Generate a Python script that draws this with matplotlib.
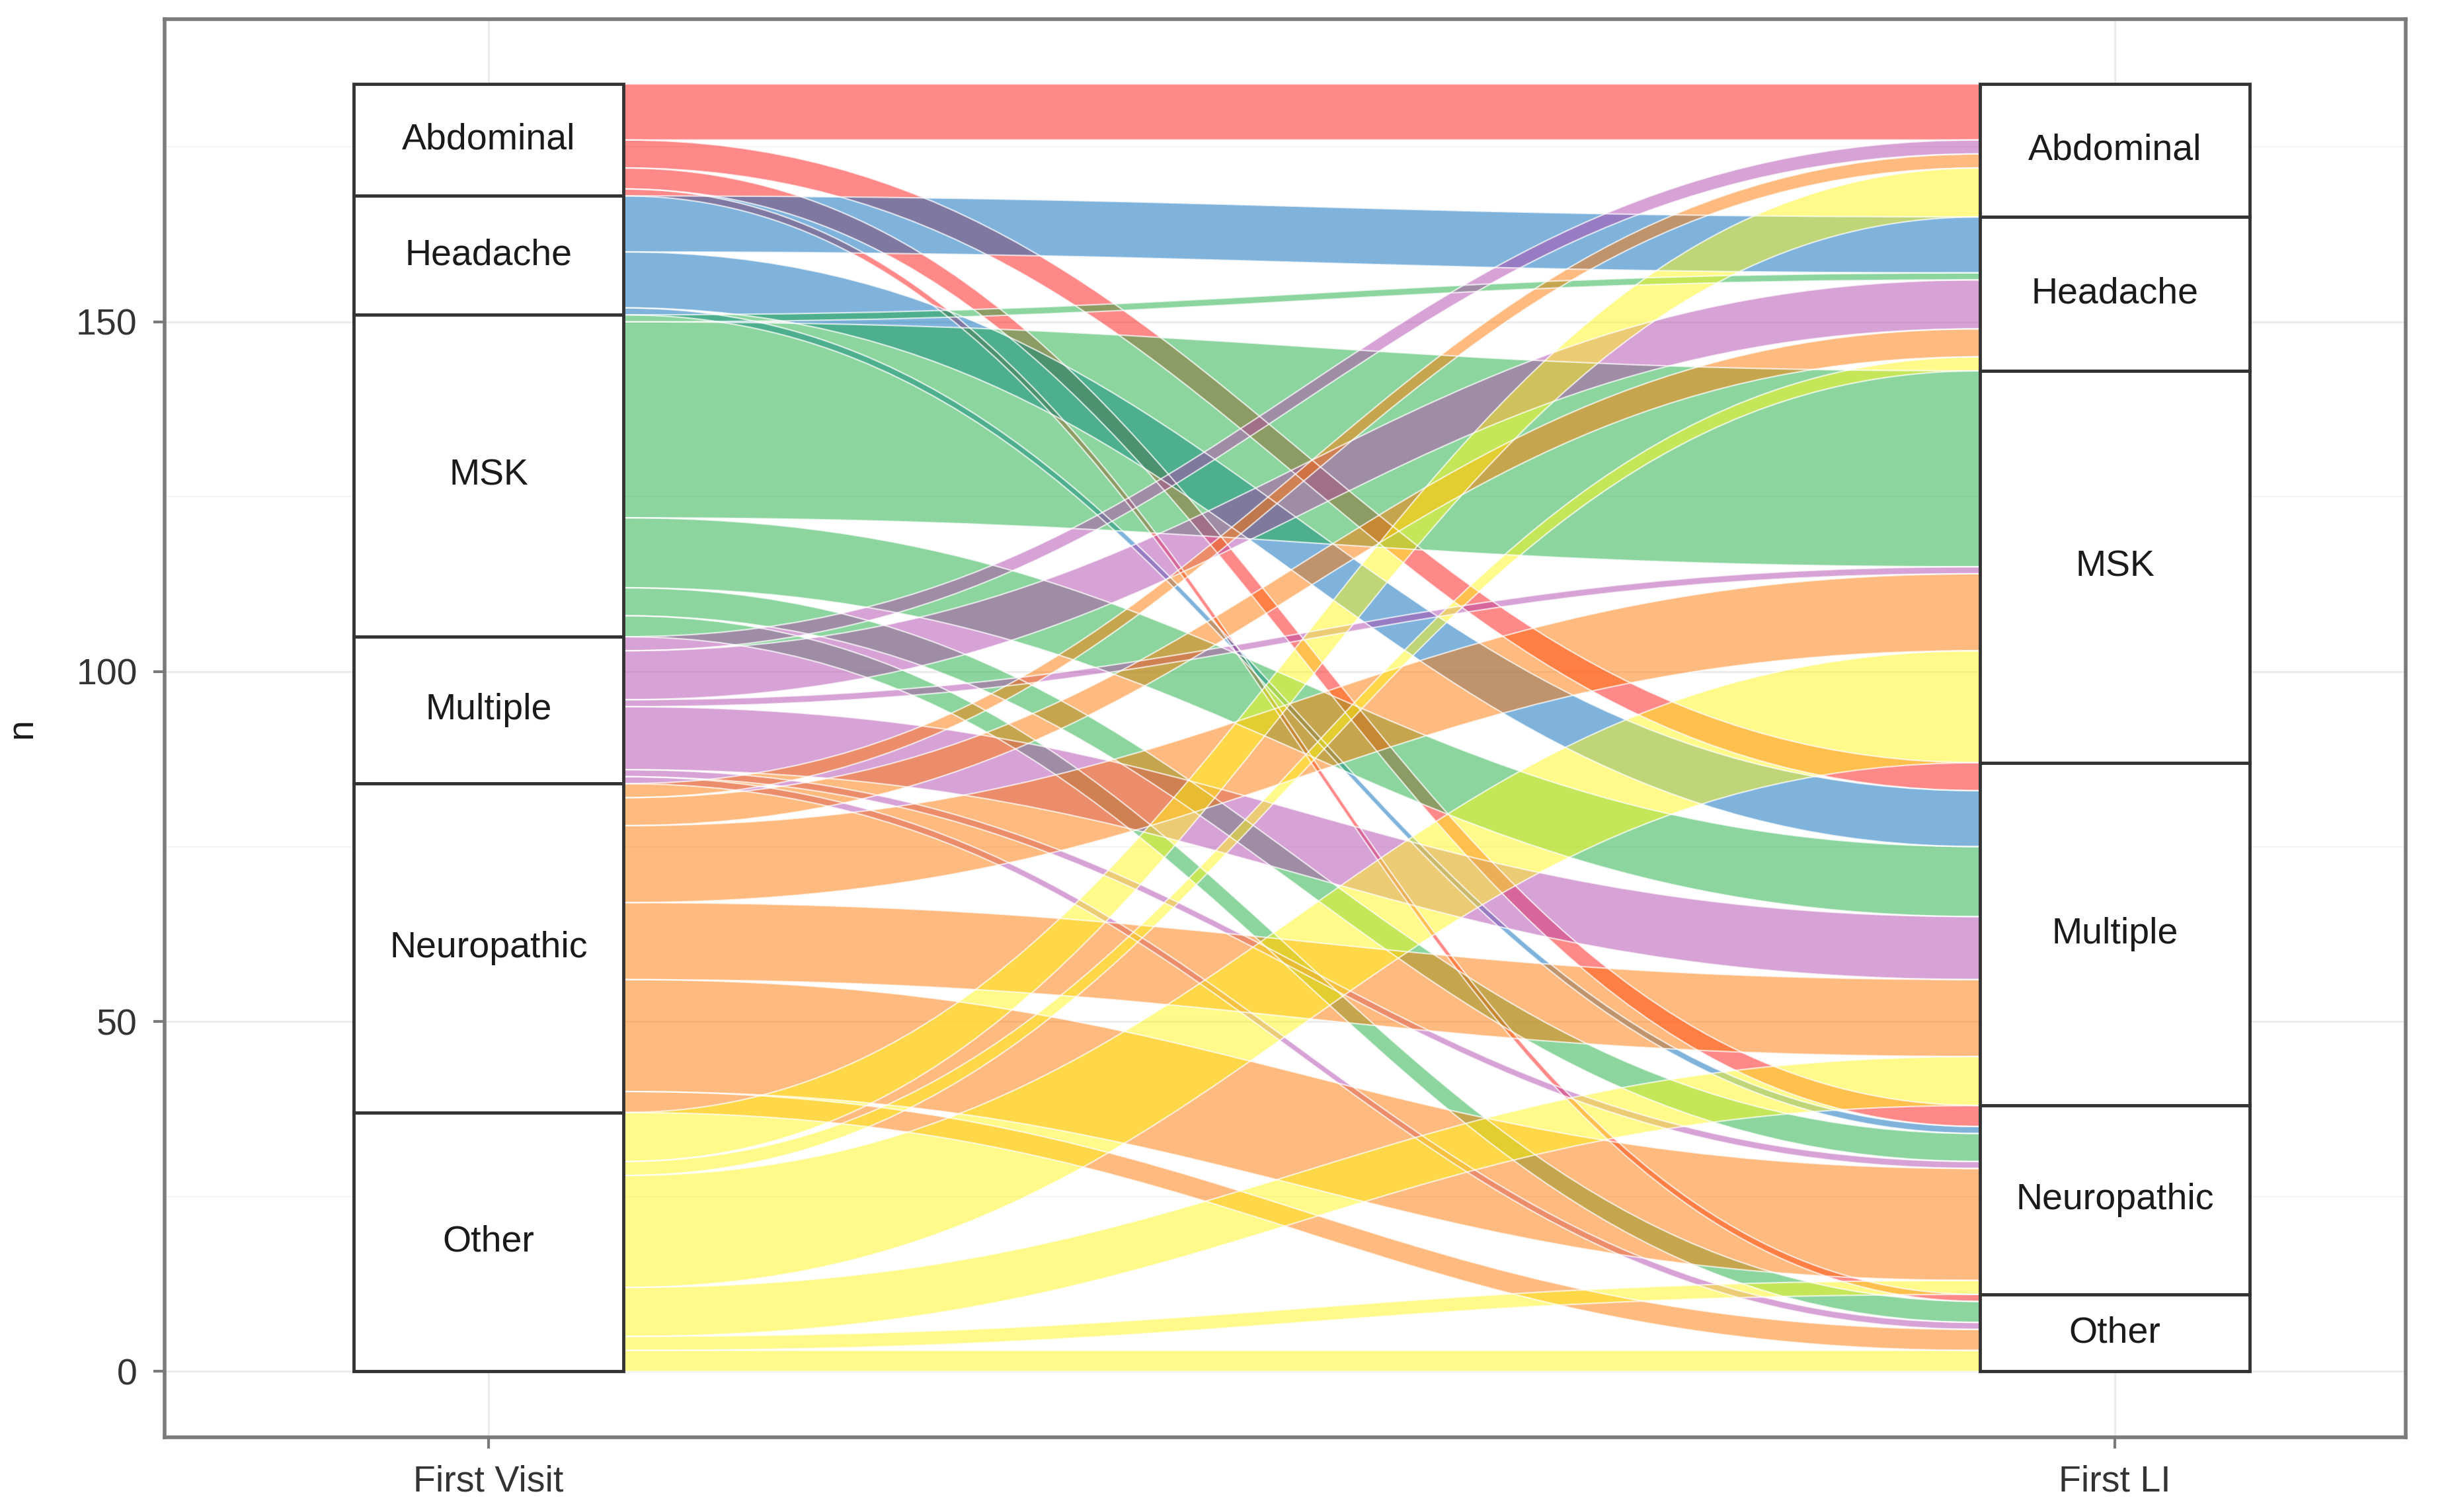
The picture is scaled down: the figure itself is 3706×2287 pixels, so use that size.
import numpy as np
import matplotlib.pyplot as plt
from matplotlib.path import Path
from matplotlib.patches import PathPatch, Rectangle

plt.rcParams['font.family'] = ['Liberation Sans Narrow', 'Liberation Sans', 'DejaVu Sans']

categories = ['Abdominal', 'Headache', 'MSK', 'Multiple', 'Neuropathic', 'Other']
axis_labels = ['First Visit', 'First LI']

# patients per first-visit category (rows) going to each first-LI category
flow_abdominal = [8, 0, 0, 4, 3, 1]
flow_headache = [0, 8, 0, 8, 1, 0]
flow_msk = [0, 1, 28, 10, 4, 3]
flow_multiple = [2, 7, 1, 9, 1, 1]
flow_neuropathic = [2, 4, 11, 11, 16, 3]
flow_other = [7, 2, 16, 7, 2, 3]

# base colours, drawn at alpha 0.5
fill_colors = ['#ff1515', '#0069b9', '#1dad41', '#b147ad', '#ff7701', '#fff715']


def flow_patch(x0, x1, yl_top, yl_bot, yr_top, yr_bot, k=0.45):
    dx = x1 - x0
    verts = [(x0, yl_top),
             (x0 + k * dx, yl_top), (x1 - k * dx, yr_top), (x1, yr_top),
             (x1, yr_bot),
             (x1 - k * dx, yr_bot), (x0 + k * dx, yl_bot), (x0, yl_bot),
             (x0, yl_top)]
    codes = [Path.MOVETO,
             Path.CURVE4, Path.CURVE4, Path.CURVE4,
             Path.LINETO,
             Path.CURVE4, Path.CURVE4, Path.CURVE4,
             Path.CLOSEPOLY]
    return Path(verts, codes)


def main():
    flows = np.array([flow_abdominal, flow_headache, flow_msk,
                      flow_multiple, flow_neuropathic, flow_other], dtype=float)
    left_tot = flows.sum(axis=1)
    right_tot = flows.sum(axis=0)
    total = flows.sum()

    left_top = total - np.concatenate([[0], np.cumsum(left_tot)[:-1]])
    right_top = total - np.concatenate([[0], np.cumsum(right_tot)[:-1]])

    width = 0.166
    xl = 1 + width / 2
    xr = 2 - width / 2

    fig = plt.figure(figsize=(37.06, 22.87), dpi=100)
    ax = fig.add_axes([0.0673, 0.0495, 0.982 - 0.0673, 0.9875 - 0.0495])

    # lode positions on each side
    lcur = left_top.copy()
    lpos = {}
    for i in range(6):
        for j in range(6):
            n = flows[i, j]
            lpos[(i, j)] = (lcur[i], lcur[i] - n)
            lcur[i] -= n
    rcur = right_top.copy()
    rpos = {}
    for j in range(6):
        for i in range(6):
            n = flows[i, j]
            rpos[(i, j)] = (rcur[j], rcur[j] - n)
            rcur[j] -= n

    for i in range(6):
        for j in range(6):
            if flows[i, j] <= 0:
                continue
            lt, lb = lpos[(i, j)]
            rt, rb = rpos[(i, j)]
            p = flow_patch(xl, xr, lt, lb, rt, rb)
            ax.add_patch(PathPatch(p, facecolor=fill_colors[i], alpha=0.5,
                                   edgecolor='none', zorder=2))
            ax.add_patch(PathPatch(p, facecolor='none', edgecolor='white',
                                   lw=1.6, alpha=0.7, zorder=2.5))

    # strata boxes
    for side, tops, tots in [(1, left_top, left_tot), (2, right_top, right_tot)]:
        for k, cat in enumerate(categories):
            bottom = tops[k] - tots[k]
            ax.add_patch(Rectangle((side - width / 2, bottom), width, tots[k],
                                   facecolor='white', edgecolor='#333333',
                                   lw=3.5, zorder=3))
            ax.text(side, bottom + tots[k] / 2, cat, ha='center', va='center',
                    fontsize=40, color='#1a1a1a', zorder=4)

    ax.set_xlim(0.801, 2.179)
    ax.set_ylim(-9.4, 193.3)
    ax.set_xticks([1, 2])
    ax.set_xticklabels(axis_labels)
    ax.set_yticks([0, 50, 100, 150])
    ax.set_yticks([25, 75, 125, 175], minor=True)
    ax.set_ylabel('n', fontsize=40, color='#1a1a1a', labelpad=40)

    ax.grid(True, which='major', color='#ececec', lw=2.2, zorder=0)
    ax.grid(True, which='minor', axis='y', color='#f4f4f4', lw=1.6, zorder=0)
    ax.set_axisbelow(True)
    ax.tick_params(axis='both', which='major', labelsize=40, colors='#7a7a7a',
                   length=12, width=3, pad=18, labelcolor='#333333')
    ax.tick_params(axis='y', which='minor', length=0)
    for s in ax.spines.values():
        s.set_color('#7a7a7a')
        s.set_linewidth(4)

    fig.savefig('out.png', dpi=100, facecolor='white')


if __name__ == "__main__":
    main()
